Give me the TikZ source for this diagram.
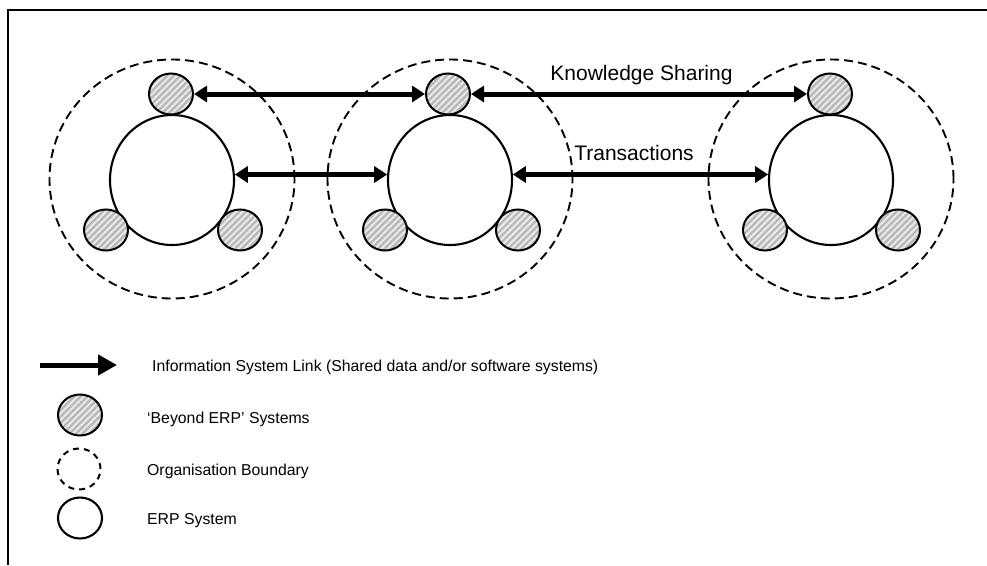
\documentclass[tikz,border=0pt]{standalone}
\usepackage{fontspec}
\setmainfont{Liberation Sans}
\usetikzlibrary{arrows.meta,shapes.geometric,patterns.meta}
\begin{document}
\begin{tikzpicture}[x=1pt,y=-1pt,
  orgbound/.style={ellipse,draw,line width=1.9pt,dash pattern=on 9pt off 5pt,minimum width=245pt,minimum height=239pt,inner sep=0pt},
  erp/.style={ellipse,draw,fill=white,line width=2.1pt,minimum width=124pt,minimum height=130pt,inner sep=0pt},
  beyond/.style={ellipse,draw,line width=2pt,minimum width=44pt,minimum height=41pt,inner sep=0pt,
    preaction={fill=black!28},pattern={Lines[angle=45,distance=4.6pt,line width=2pt]},pattern color=black!8},
  link/.style={line width=5pt,{Triangle[length=13pt,width=16pt]}-{Triangle[length=13pt,width=16pt]}},
  bigtxt/.style={font=\fontsize{21pt}{25pt}\selectfont,inner sep=0pt},
  legtxt/.style={font=\fontsize{15.8pt}{19pt}\selectfont,inner sep=0pt,anchor=base west}]
\useasboundingbox (0,0) rectangle (987,565);
\draw[line width=2pt] (987,10) -- (8,10) -- (8,565);
% clusters
\foreach \n/\cx in {1/172,2/450,3/831}{
  \node[orgbound] (o\n) at (\cx,179) {};
}
\node[erp] (e1) at (172,180) {};
\node[erp] (e2) at (450,180) {};
\node[erp] (e3) at (831,180) {};
\node[beyond] (t1) at (171,94) {};
\node[beyond] (l1) at (106,230) {};
\node[beyond] (r1) at (240,230) {};
\node[beyond] (t2) at (448,94) {};
\node[beyond] (l2) at (385,230) {};
\node[beyond] (r2) at (518,230) {};
\node[beyond] (t3) at (830,94) {};
\node[beyond] (l3) at (765,230) {};
\node[beyond] (r3) at (898,230) {};
% links
\draw[link] (t1.east) -- (t2.west);
\draw[link] (t2.east) -- (t3.west);
\draw[link] (e1.5) -- (e2.175);
\draw[link] (e2.5) -- (e3.175);
\node[bigtxt,anchor=base] (ks) at (641.5,80.5) {Knowledge Sharing};
\node[bigtxt,anchor=base] (tr) at (634,160.5) {Transactions};
% legend
\coordinate (la) at (40,365);
\coordinate (lb) at (117,365);
\draw[line width=5pt,-{Triangle[length=19pt,width=20pt]}] (la) -- (lb);
\node[legtxt] (lt1) at (152,371) {Information System Link (Shared data and/or software systems)};
\node[beyond] (lg2) at (80,415) {};
\node[legtxt] (lt2) at (147,423) {‘Beyond ERP’ Systems};
\node[ellipse,draw,line width=2pt,dash pattern=on 6pt off 5pt,minimum width=43pt,minimum height=41pt,inner sep=0pt] (lg3) at (79,469) {};
\node[legtxt] (lt3) at (147,475.5) {Organisation Boundary};
\node[ellipse,draw,line width=2.1pt,minimum width=44pt,minimum height=41pt,inner sep=0pt] (lg4) at (80,518) {};
\node[legtxt] (lt4) at (147,524.5) {ERP System};
\end{tikzpicture}
\end{document}
